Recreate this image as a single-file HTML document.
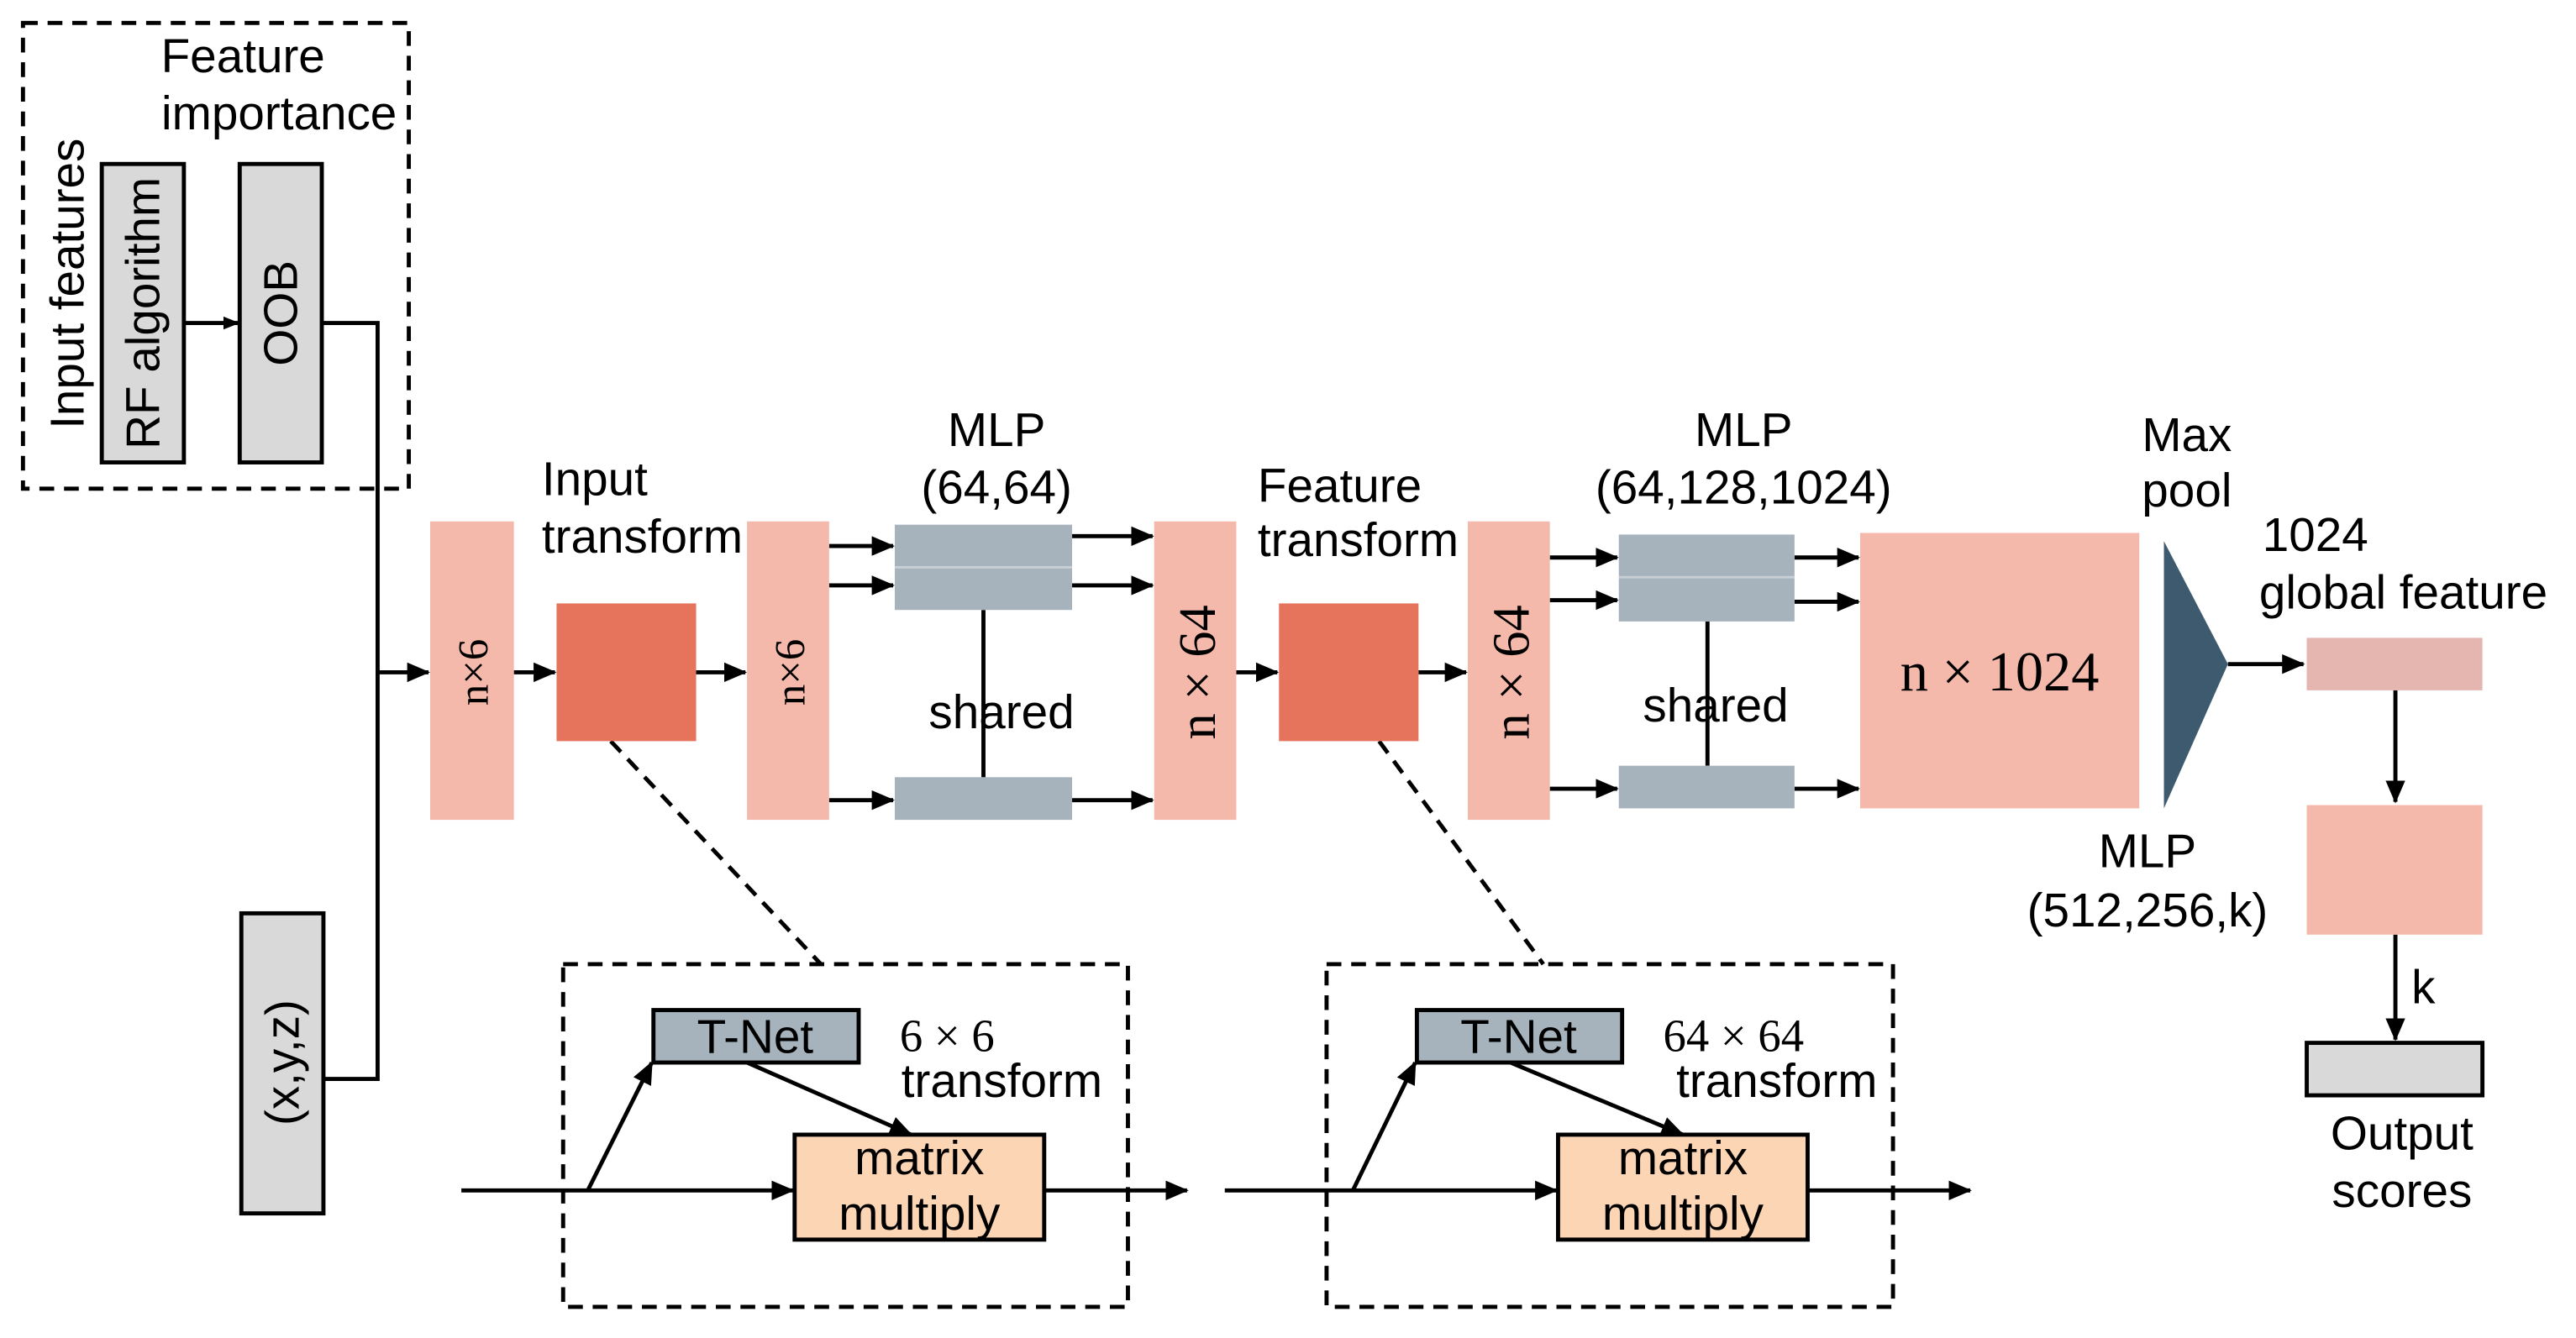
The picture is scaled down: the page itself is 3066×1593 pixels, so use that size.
<!DOCTYPE html>
<html><head><meta charset="utf-8"><style>html,body{margin:0;padding:0;background:#fff}svg{display:block}</style></head>
<body>
<svg width="3066" height="1593" viewBox="0 0 1569 816" preserveAspectRatio="none" xmlns="http://www.w3.org/2000/svg" font-family="Liberation Sans, sans-serif" font-size="29">
<defs><marker id="a" markerWidth="10" markerHeight="10" refX="9" refY="5" orient="auto" markerUnits="userSpaceOnUse" viewBox="0 0 10 10"><path d="M0,1 L10,5 L0,9 Z" fill="#000"/></marker>
<marker id="b" markerWidth="14" markerHeight="12" refX="13" refY="6" orient="auto" markerUnits="userSpaceOnUse" viewBox="0 0 14 12"><path d="M0,0 L14,6 L0,12 Z" fill="#000"/></marker></defs>
<g stroke="#000" stroke-width="2.5" fill="none" stroke-dasharray="9,6">
<rect x="14" y="14" width="235" height="284"/>
<rect x="343" y="588" width="344" height="209"/>
<rect x="808" y="588" width="345" height="209"/>
<line x1="372" y1="452" x2="500" y2="588"/>
<line x1="840" y1="452" x2="940" y2="588"/>
</g>
<text x="148" y="44" text-anchor="middle">Feature</text>
<text x="170" y="79" text-anchor="middle">importance</text>
<text transform="translate(51,173) rotate(-90)" text-anchor="middle">Input features</text>
<g stroke="#000" stroke-width="2.5" fill="#d9d9d9">
<rect x="62" y="100" width="50" height="182"/>
<rect x="146" y="100" width="50" height="182"/>
<rect x="147" y="557" width="50" height="183"/>
<rect x="1405" y="636" width="107" height="32"/>
</g>
<text transform="translate(97,191) rotate(-90)" text-anchor="middle">RF algorithm</text>
<text transform="translate(181,191) rotate(-90)" text-anchor="middle">OOB</text>
<text transform="translate(182,648) rotate(-90)" text-anchor="middle">(x,y,z)</text>
<g stroke="#000" stroke-width="2.5" fill="none">
<line x1="112" y1="197" x2="145" y2="197" marker-end="url(#a)"/>
<polyline points="196,197 230,197 230,658 197,658"/>
<line x1="230" y1="410" x2="261" y2="410" marker-end="url(#b)"/>
<line x1="313" y1="410" x2="338" y2="410" marker-end="url(#b)"/>
<line x1="424" y1="410" x2="454" y2="410" marker-end="url(#b)"/>
<line x1="505" y1="333" x2="544" y2="333" marker-end="url(#b)"/>
<line x1="505" y1="357" x2="544" y2="357" marker-end="url(#b)"/>
<line x1="505" y1="488" x2="544" y2="488" marker-end="url(#b)"/>
<line x1="653" y1="327" x2="702" y2="327" marker-end="url(#b)"/>
<line x1="653" y1="357" x2="702" y2="357" marker-end="url(#b)"/>
<line x1="653" y1="488" x2="702" y2="488" marker-end="url(#b)"/>
<line x1="599" y1="372" x2="599" y2="474"/>
<line x1="753" y1="410" x2="778" y2="410" marker-end="url(#b)"/>
<line x1="864" y1="410" x2="893" y2="410" marker-end="url(#b)"/>
<line x1="944" y1="340" x2="985" y2="340" marker-end="url(#b)"/>
<line x1="944" y1="366" x2="985" y2="366" marker-end="url(#b)"/>
<line x1="944" y1="481" x2="985" y2="481" marker-end="url(#b)"/>
<line x1="1093" y1="340" x2="1132" y2="340" marker-end="url(#b)"/>
<line x1="1093" y1="367" x2="1132" y2="367" marker-end="url(#b)"/>
<line x1="1093" y1="481" x2="1132" y2="481" marker-end="url(#b)"/>
<line x1="1040" y1="379" x2="1040" y2="467"/>
<line x1="1357" y1="405" x2="1403" y2="405" marker-end="url(#b)"/>
<line x1="1459" y1="421" x2="1459" y2="489" marker-end="url(#b)"/>
<line x1="1459" y1="570" x2="1459" y2="634" marker-end="url(#b)"/>
<line x1="281" y1="726" x2="483" y2="726" marker-end="url(#b)"/>
<line x1="358" y1="726" x2="397" y2="648" marker-end="url(#b)"/>
<line x1="455" y1="648" x2="555" y2="692" marker-end="url(#b)"/>
<line x1="636" y1="726" x2="723" y2="726" marker-end="url(#b)"/>
<line x1="746" y1="726" x2="948" y2="726" marker-end="url(#b)"/>
<line x1="824" y1="726" x2="862" y2="648" marker-end="url(#b)"/>
<line x1="920" y1="648" x2="1025" y2="692" marker-end="url(#b)"/>
<line x1="1101" y1="726" x2="1200" y2="726" marker-end="url(#b)"/>
</g>
<g fill="#f4b9aa">
<rect x="262" y="318" width="51" height="182"/>
<rect x="455" y="318" width="50" height="182"/>
<rect x="703" y="318" width="50" height="182"/>
<rect x="894" y="318" width="50" height="182"/>
<rect x="1133" y="325" width="170" height="168"/>
<rect x="1405" y="491" width="107" height="79"/>
</g>
<rect x="1405" y="389" width="107" height="32" fill="#e5b5b0"/>
<rect x="339" y="368" width="85" height="84" fill="#e6735c"/>
<rect x="779" y="368" width="85" height="84" fill="#e6735c"/>
<g fill="#a6b3bd">
<rect x="545" y="320" width="108" height="52"/>
<rect x="545" y="474" width="108" height="26"/>
<rect x="986" y="326" width="107" height="53"/>
<rect x="986" y="467" width="107" height="26"/>
</g>
<line x1="545" y1="346" x2="653" y2="346" stroke="#c8d0d6" stroke-width="1.5"/>
<line x1="986" y1="352" x2="1093" y2="352" stroke="#c8d0d6" stroke-width="1.5"/>
<polygon points="1318,330 1357,405 1318,493" fill="#3e5a6e"/>
<g font-family="Liberation Serif, serif">
<text transform="translate(297,410) rotate(-90)" text-anchor="middle" font-size="26">n×6</text>
<text transform="translate(490,410) rotate(-90)" text-anchor="middle" font-size="26">n×6</text>
<text transform="translate(740,410) rotate(-90)" text-anchor="middle" font-size="32">n × 64</text>
<text transform="translate(931,410) rotate(-90)" text-anchor="middle" font-size="32">n × 64</text>
<text x="1218" y="421" text-anchor="middle" font-size="34">n × 1024</text>
<text x="548" y="641" font-size="28">6 × 6</text>
<text x="1013" y="641" font-size="28">64 × 64</text>
</g>
<text x="330" y="302">Input</text>
<text x="330" y="337">transform</text>
<text x="607" y="272" text-anchor="middle">MLP</text>
<text x="607" y="307" text-anchor="middle">(64,64)</text>
<text x="610" y="444" text-anchor="middle">shared</text>
<text x="766" y="306">Feature</text>
<text x="766" y="339">transform</text>
<text x="1062" y="272" text-anchor="middle">MLP</text>
<text x="1062" y="307" text-anchor="middle">(64,128,1024)</text>
<text x="1045" y="440" text-anchor="middle">shared</text>
<text x="1332" y="275" text-anchor="middle">Max</text>
<text x="1332" y="309" text-anchor="middle">pool</text>
<text x="1378" y="336">1024</text>
<text x="1376" y="371">global feature</text>
<text x="1308" y="529" text-anchor="middle">MLP</text>
<text x="1308" y="565" text-anchor="middle">(512,256,k)</text>
<text x="1476" y="612" text-anchor="middle">k</text>
<text x="1463" y="701" text-anchor="middle">Output</text>
<text x="1463" y="736" text-anchor="middle">scores</text>
<text x="549" y="669">transform</text>
<text x="1021" y="669">transform</text>
<g stroke="#000" stroke-width="2.5">
<rect x="398" y="616" width="125" height="32" fill="#a6b3bd"/>
<rect x="863" y="616" width="125" height="32" fill="#a6b3bd"/>
<rect x="484" y="692" width="152" height="64" fill="#fcd5b5"/>
<rect x="949" y="692" width="152" height="64" fill="#fcd5b5"/>
</g>
<text x="460" y="642" text-anchor="middle">T-Net</text>
<text x="925" y="642" text-anchor="middle">T-Net</text>
<text x="560" y="716" text-anchor="middle">matrix</text>
<text x="560" y="750" text-anchor="middle">multiply</text>
<text x="1025" y="716" text-anchor="middle">matrix</text>
<text x="1025" y="750" text-anchor="middle">multiply</text>
</svg>
</body></html>
